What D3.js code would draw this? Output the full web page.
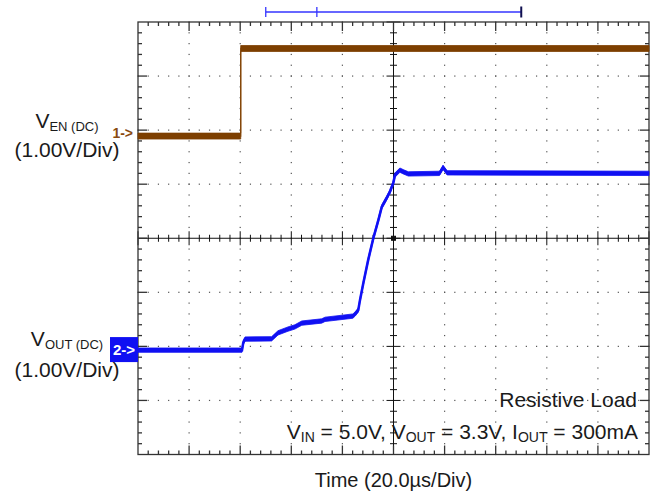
<!DOCTYPE html>
<html>
<head>
<meta charset="utf-8">
<script src="https://cdn.jsdelivr.net/npm/d3@7"></script>
<style>
  body { margin: 0; background: #fff; }
  text { font-family: "Liberation Sans", Arial, sans-serif; }
</style>
</head>
<body>
<div id="chart"></div>
<script>
// scope settings (10 x 8 divisions)
var timePerDiv = 20;          // µs / div
var voltsPerDiv = [1.0, 1.0]; // ch1, ch2
var groundDiv = [1.95, -2.05]; // channel ground markers, in divisions from centre

// channel 1 : V_EN, time in µs, value in V
var enTime = [0, 40.2, 40.2, 200];
var enVolts = [-0.06, -0.06, 1.56, 1.56];
var enNoise = 0.055;

// channel 2 : V_OUT, time in µs, value in V
var outTime = [0, 40.7, 41.2, 41.9, 52.3, 54.8, 58.7, 61.4, 64.1, 71.9, 73.2, 84.1, 85.0, 86.2, 86.9,
               88.2, 90.1, 92.1, 94.1, 95.4, 97.3, 98.6, 99.9, 100.6, 102.5, 103.8, 105.8,
               118.0, 119.4, 121.0, 200];
var outVolts = [-0.02, -0.02, 0.12, 0.185, 0.19, 0.30, 0.37, 0.41, 0.48, 0.52, 0.55, 0.61, 0.65, 0.72, 0.91,
                1.22, 1.65, 2.05, 2.39, 2.63, 2.79, 2.91, 3.07, 3.22, 3.31, 3.28, 3.24,
                3.25, 3.36, 3.26, 3.25];
var outNoise = 0.04;

// memory window bar at the top (µs)
var windowMarks = [50, 70, 150];

// texts
var timeLabel = "Time (20.0\u00b5s/Div)";
var noteLine1 = "Resistive Load";

// set the dimensions of the graph
var width = 658, height = 497;
var plot = {left: 138, right: 649, top: 22, bottom: 454.5};

var svg = d3.select("#chart").append("svg")
    .attr("width", width)
    .attr("height", height);

// set the ranges
var x = d3.scaleLinear().domain([0, 10 * timePerDiv]).range([plot.left, plot.right]);
var y = d3.scaleLinear().domain([-4, 4]).range([plot.bottom, plot.top]);

// dotted graticule
var grid = svg.append("g");
d3.range(1, 10).forEach(function(i) {
    if (i == 5) return;
    d3.range(0, 41).forEach(function(k) {
        grid.append("rect")
            .attr("x", x(i * timePerDiv) - 0.6)
            .attr("y", y(-4 + k / 5) - 0.6)
            .attr("width", 1.2).attr("height", 1.2)
            .attr("fill", "#555");
    });
});
d3.range(-3, 4).forEach(function(j) {
    if (j == 0) return;
    d3.range(0, 51).forEach(function(k) {
        grid.append("rect")
            .attr("x", x(k / 5 * timePerDiv) - 0.6)
            .attr("y", y(j) - 0.6)
            .attr("width", 1.2).attr("height", 1.2)
            .attr("fill", "#555");
    });
});

// centre axes with minor ticks
var axes = svg.append("g").attr("stroke", "#111").attr("stroke-width", 1);
axes.append("line").attr("x1", plot.left).attr("x2", plot.right)
    .attr("y1", y(0)).attr("y2", y(0));
axes.append("line").attr("x1", x(100)).attr("x2", x(100))
    .attr("y1", plot.top).attr("y2", plot.bottom);
d3.range(0, 51).forEach(function(k) {
    var len = (k % 5 == 0) ? 7 : 3.5;
    axes.append("line")
        .attr("x1", x(k / 5 * timePerDiv)).attr("x2", x(k / 5 * timePerDiv))
        .attr("y1", y(0) - len).attr("y2", y(0) + len);
});
d3.range(0, 41).forEach(function(k) {
    var len = (k % 5 == 0) ? 7 : 3.5;
    axes.append("line")
        .attr("x1", x(100) - len).attr("x2", x(100) + len)
        .attr("y1", y(-4 + k / 5)).attr("y2", y(-4 + k / 5));
});
axes.append("rect").attr("x", x(100) - 2).attr("y", y(0) - 2)
    .attr("width", 4).attr("height", 4).attr("fill", "#111");

// frame with inward ticks
var frame = svg.append("g").attr("stroke", "#333").attr("stroke-width", 1.3);
frame.append("rect")
    .attr("x", plot.left).attr("y", plot.top)
    .attr("width", plot.right - plot.left).attr("height", plot.bottom - plot.top)
    .attr("fill", "none");
d3.range(1, 50).forEach(function(k) {
    var len = (k % 5 == 0) ? 9 : 4;
    var xx = x(k / 5 * timePerDiv);
    frame.append("line").attr("x1", xx).attr("x2", xx)
        .attr("y1", plot.top).attr("y2", plot.top + len);
    frame.append("line").attr("x1", xx).attr("x2", xx)
        .attr("y1", plot.bottom).attr("y2", plot.bottom - len);
});
d3.range(1, 40).forEach(function(k) {
    var len = (k % 5 == 0) ? 9 : 4;
    var yy = y(-4 + k / 5);
    frame.append("line").attr("x1", plot.left).attr("x2", plot.left + len)
        .attr("y1", yy).attr("y2", yy);
    frame.append("line").attr("x1", plot.right).attr("x2", plot.right - len)
        .attr("y1", yy).attr("y2", yy);
});

// convert a channel value to the screen
function toDiv(ch, v) { return groundDiv[ch] + v / voltsPerDiv[ch]; }

function drawTrace(ch, times, volts, noise, lineColor, bandColor, lineWidth) {
    var data = times.map(function(t, i) { return {t: t, v: volts[i]}; });
    var band = d3.area()
        .x(function(d) { return x(d.t); })
        .y0(function(d) { return y(toDiv(ch, d.v - noise)); })
        .y1(function(d) { return y(toDiv(ch, d.v + noise)); });
    var valueline = d3.line()
        .x(function(d) { return x(d.t); })
        .y(function(d) { return y(toDiv(ch, d.v)); });
    svg.append("path")
        .data([data])
        .attr("fill", "none")
        .attr("stroke", lineColor)
        .attr("stroke-width", lineWidth)
        .attr("d", valueline);
    svg.append("path")
        .data([data])
        .attr("fill", bandColor)
        .attr("stroke", bandColor)
        .attr("stroke-width", 0.8)
        .attr("d", band);
}

drawTrace(0, enTime, enVolts, enNoise, "#b07a45", "#7d3f00", 1.4);
drawTrace(1, outTime, outVolts, outNoise, "#1a1aff", "#1010f2", 2.6);

// channel markers
svg.append("text")
    .attr("x", plot.left - 5).attr("y", y(groundDiv[0]) + 5)
    .attr("text-anchor", "end")
    .attr("font-size", 14)
    .attr("font-weight", "bold")
    .attr("fill", "#8a4a10")
    .text("1->");

svg.append("rect")
    .attr("x", plot.left - 28).attr("y", y(groundDiv[1]) - 12)
    .attr("width", 28).attr("height", 25)
    .attr("fill", "#1010f2");
svg.append("text")
    .attr("x", plot.left - 14).attr("y", y(groundDiv[1]) + 5.5)
    .attr("text-anchor", "middle")
    .attr("font-size", 15)
    .attr("font-weight", "bold")
    .attr("fill", "#fff")
    .text("2->");

// channel labels
function subLabel(xx, yy, parts, size, subSize, anchor) {
    var t = svg.append("text")
        .attr("x", xx).attr("y", yy)
        .attr("text-anchor", anchor)
        .attr("font-size", size)
        .attr("fill", "#1a1a1a");
    var shift = 0;
    parts.forEach(function(p) {
        var dy = p.sub ? 2.5 - shift : -shift;
        shift = p.sub ? 2.5 : 0;
        t.append("tspan")
            .attr("dy", dy)
            .attr("font-size", p.sub ? subSize : size)
            .text(p.s);
    });
}

subLabel(67, 128, [{s: "V"}, {s: "EN (DC)", sub: true}], 21, 13, "middle");
svg.append("text").attr("x", 67).attr("y", 157).attr("text-anchor", "middle")
    .attr("font-size", 21).attr("fill", "#1a1a1a").text("(1.00V/Div)");

subLabel(67, 346, [{s: "V"}, {s: "OUT (DC)", sub: true}], 21, 13, "middle");
svg.append("text").attr("x", 67).attr("y", 377).attr("text-anchor", "middle")
    .attr("font-size", 21).attr("fill", "#1a1a1a").text("(1.00V/Div)");

// conditions
svg.append("text").attr("x", 637).attr("y", 407).attr("text-anchor", "end")
    .attr("font-size", 21).attr("fill", "#1a1a1a").text(noteLine1);
subLabel(638, 439, [
    {s: "V"}, {s: "IN", sub: true}, {s: " = 5.0V, V"}, {s: "OUT", sub: true},
    {s: " = 3.3V, I"}, {s: "OUT", sub: true}, {s: " = 300mA"}
], 21, 14, "end");

// time axis label
svg.append("text").attr("x", x(100)).attr("y", 487).attr("text-anchor", "middle")
    .attr("font-size", 20).attr("fill", "#1a1a1a").text(timeLabel);

// memory window bar
var bar = svg.append("g");
bar.append("line")
    .attr("x1", x(windowMarks[0])).attr("x2", x(windowMarks[2]))
    .attr("y1", 12).attr("y2", 12)
    .attr("stroke", "#3535ff").attr("stroke-width", 1.5);
[windowMarks[0], windowMarks[1]].forEach(function(t) {
    bar.append("line")
        .attr("x1", x(t)).attr("x2", x(t))
        .attr("y1", 7).attr("y2", 17)
        .attr("stroke", "#3535ff").attr("stroke-width", 1.3);
});
bar.append("line")
    .attr("x1", x(windowMarks[2])).attr("x2", x(windowMarks[2]))
    .attr("y1", 6.5).attr("y2", 17.5)
    .attr("stroke", "#101050").attr("stroke-width", 2);
</script>
</body>
</html>
